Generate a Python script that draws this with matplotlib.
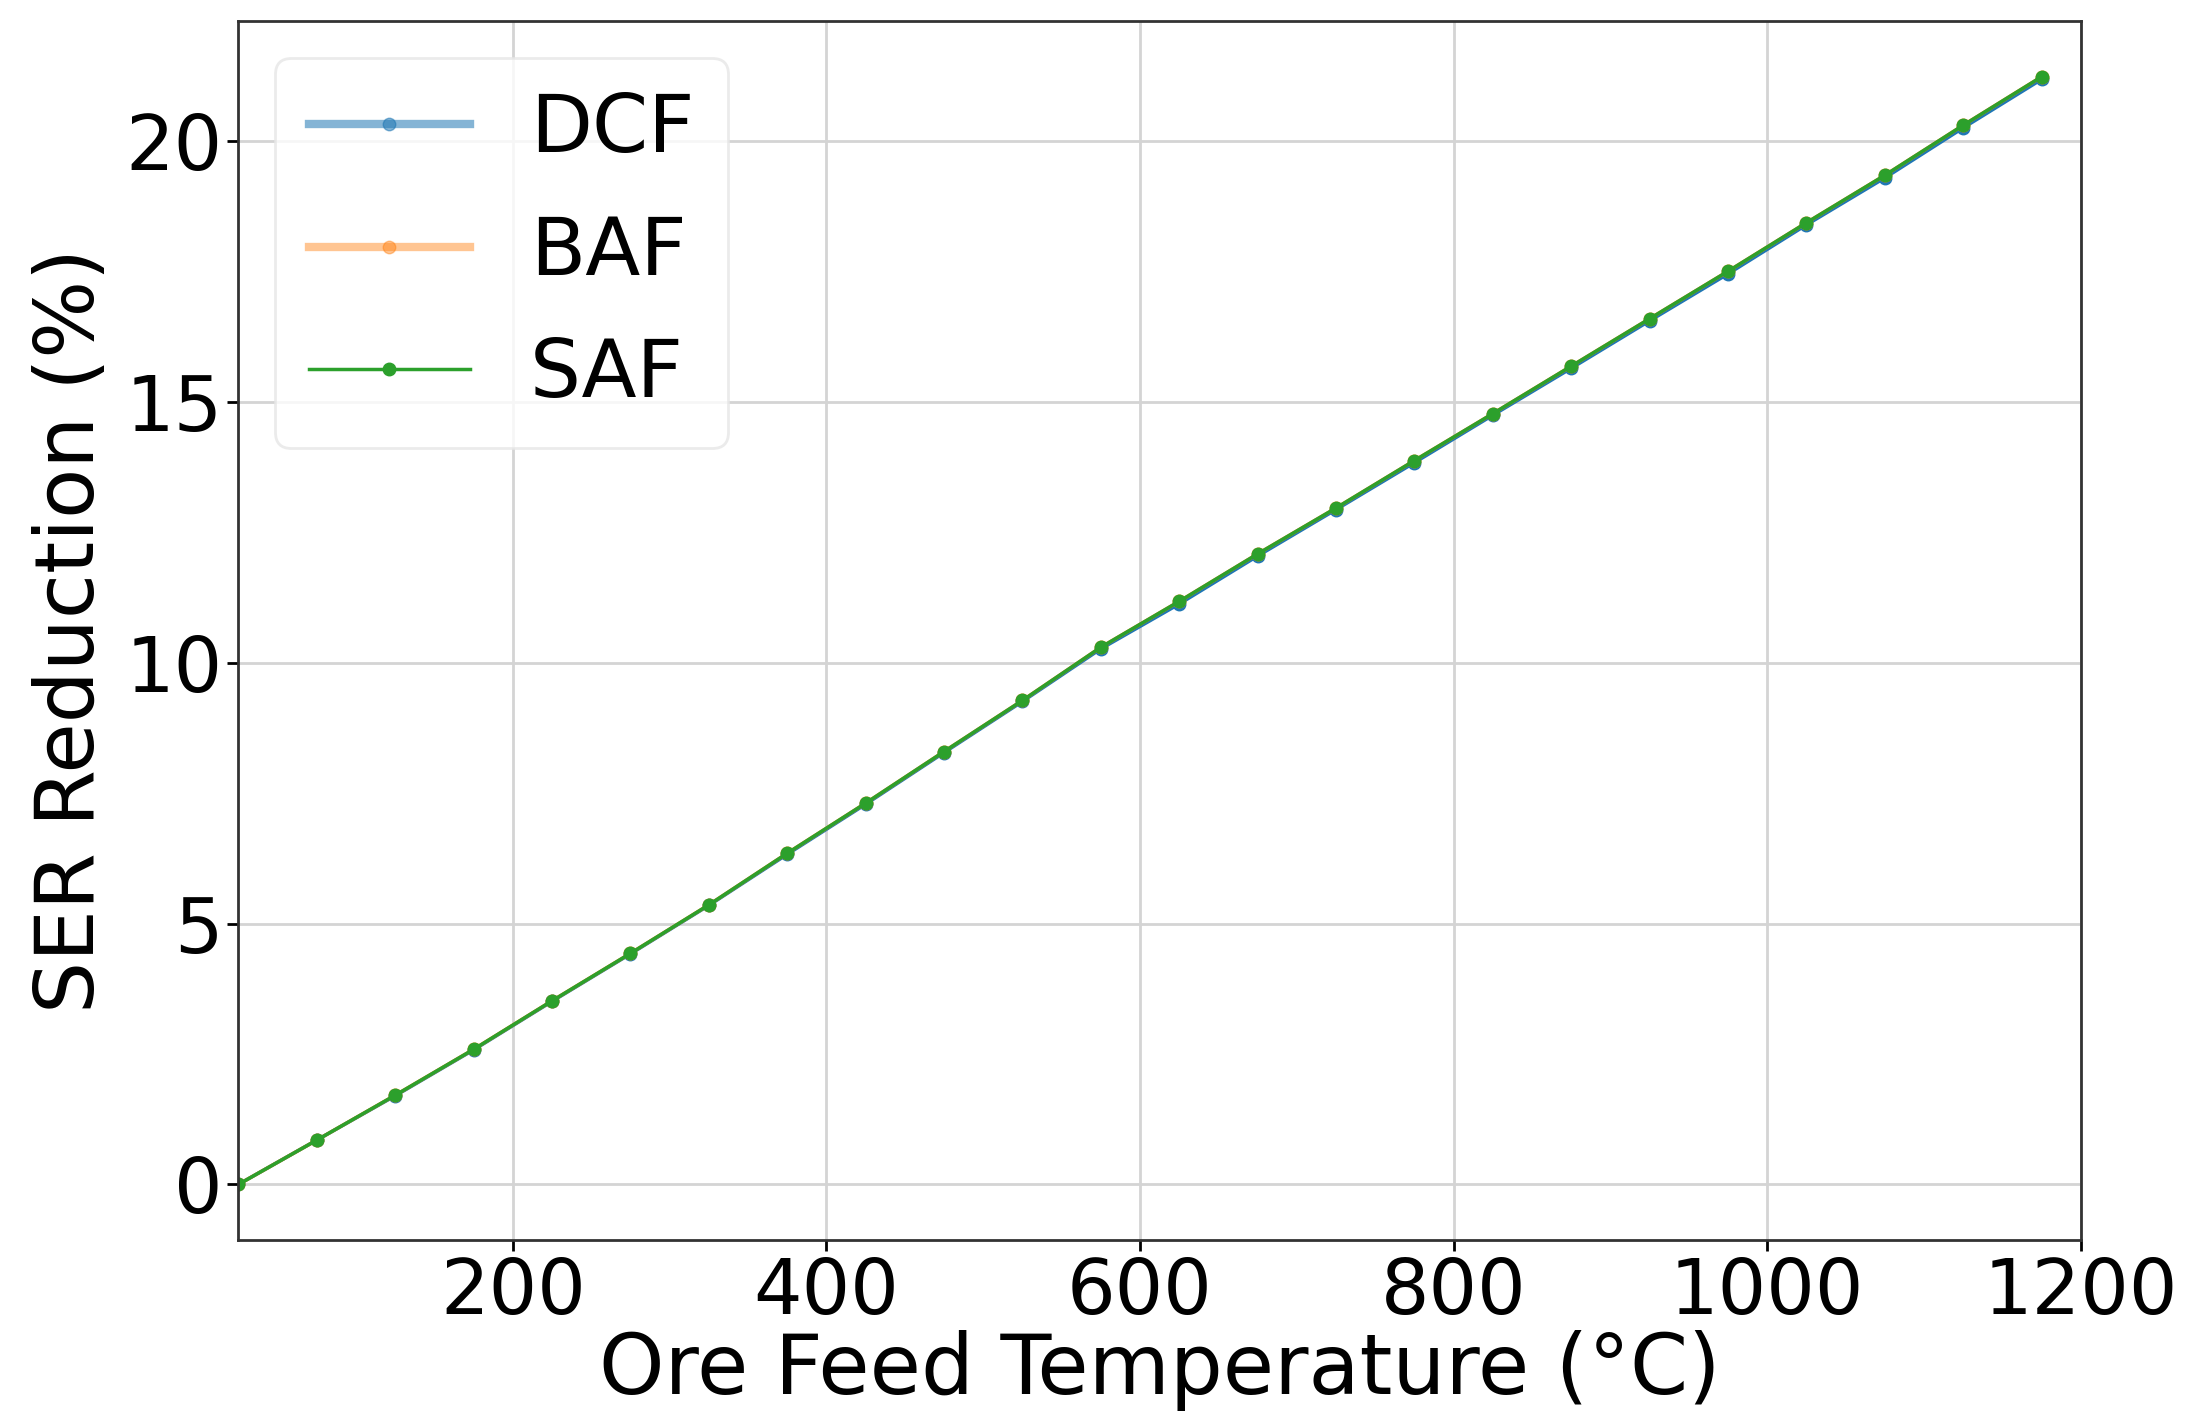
import numpy as np
import matplotlib.pyplot as plt

# ore feed temperature (C)
temps = [25, 75, 125, 175, 225, 275, 325, 375, 425, 475, 525, 575,
         625, 675, 725, 775, 825, 875, 925, 975, 1025, 1075, 1125, 1175]

# SER reduction (%) per furnace type
saf = [0.00, 0.85, 1.71, 2.59, 3.52, 4.43, 5.36, 6.35, 7.31, 8.30, 9.28, 10.30,
       11.18, 12.09, 12.97, 13.88, 14.78, 15.69, 16.60, 17.51, 18.44, 19.35, 20.31, 21.24]
baf = [0.00, 0.85, 1.71, 2.59, 3.52, 4.43, 5.36, 6.35, 7.31, 8.30, 9.28, 10.30,
       11.18, 12.09, 12.97, 13.88, 14.78, 15.69, 16.60, 17.51, 18.44, 19.35, 20.31, 21.24]
dcf = [0.00, 0.85, 1.70, 2.58, 3.51, 4.42, 5.35, 6.33, 7.29, 8.28, 9.26, 10.27,
       11.13, 12.05, 12.94, 13.84, 14.75, 15.65, 16.56, 17.46, 18.40, 19.30, 20.26, 21.19]

fig, ax = plt.subplots(figsize=(21.88, 14.25), dpi=100)
fig.subplots_adjust(left=0.109, right=0.951, top=0.985, bottom=0.13)

ax.plot(temps, dcf, color='#1f77b4', marker='o', markersize=9, lw=2.5, label='DCF')
ax.plot(temps, baf, color='#ff7f0e', marker='o', markersize=9, lw=2.5, label='BAF')
ax.plot(temps, saf, color='#2ca02c', marker='o', markersize=9, lw=2.5, label='SAF')

ax.set_xlim(25, 1200)
ax.set_xticks([200, 400, 600, 800, 1000, 1200])
ax.set_yticks([0, 5, 10, 15, 20])
ax.grid(True, color='#d4d4d4', lw=2)
ax.set_axisbelow(True)
for s in ax.spines.values():
    s.set_color('#333333')
    s.set_linewidth(2)

ax.tick_params(labelsize=55, width=2, length=8)
ax.set_xlabel('Ore Feed Temperature (°C)', fontsize=60, labelpad=0)
ax.set_ylabel('SER Reduction (%)', fontsize=59, labelpad=10)

leg = ax.legend(loc='upper left', fontsize=58, borderaxespad=0.45, handlelength=2.0,
                fancybox=True, borderpad=0.42, handletextpad=0.75, labelspacing=0.55)
leg.get_frame().set_edgecolor('#e6e6e6')
leg.get_frame().set_linewidth(2)
# thicker, faded handles for DCF and BAF like the original
for h, lw, a in zip(leg.legend_handles, [6, 6, 2.5], [0.55, 0.45, 1.0]):
    h.set_linewidth(lw)
    h.set_alpha(a)

fig.savefig('out.png', dpi=100)
